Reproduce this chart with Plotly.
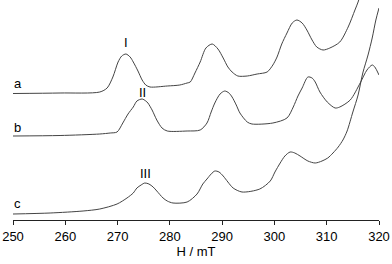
import plotly.graph_objects as go

# Field (mT) and stacked intensity (arb. units) for the three spectra
field_a = [250, 259, 266.6, 268, 269.1, 270.1, 270.8, 271.6, 272.4, 273, 273.9, 274.7, 275.4, 276.2,
           279.5, 281.9, 283.3, 283.9, 284.8, 285.8, 286.9, 288.1, 289.2, 290.2, 291.1, 291.9, 293,
           294.8, 296.7, 298.6, 299.7, 300.5, 301.4, 302.4, 303.4, 304.3, 305.3, 306.2, 307.2, 308.1,
           309.3, 310.6, 312.5, 314.1, 315.4, 316, 316.6]
int_a = [126.5, 127, 128, 132, 143, 158, 164, 166, 163, 158, 149, 140, 135, 133,
         134, 135, 137, 138, 147, 158, 172, 176, 171, 162, 153, 148, 144,
         144, 146, 148, 155, 163, 176, 187, 197, 200, 197, 190, 180, 173,
         170, 172, 178, 193, 210, 218, 228]

field_b = [250, 259, 266.6, 268.6, 269.9, 271, 272, 273, 273.7, 274.7, 275.4, 275.8, 276.6, 277.5,
           278.5, 279.5, 283.3, 285.8, 287.1, 287.9, 288.6, 289.6, 290.5, 291.3, 291.9, 292.7, 293.4,
           294.8, 295.7, 299.7, 302.4, 303.6, 304.5, 305.3, 306.4, 307.2, 307.8, 308.7, 310.1, 311.6,
           312.5, 314.5, 316.4, 317.7, 318.7, 319.2, 320]
int_b = [84, 84.5, 86, 87, 88, 97, 106, 113, 119, 121, 119, 117, 110, 100,
         92, 89, 89, 90, 97, 108, 117, 126, 129, 127, 123, 115, 107,
         98, 96, 97, 102, 113, 124, 132, 143, 142, 138, 128, 118, 112,
         113, 120, 137, 150, 155, 153, 145]

field_c = [250, 257.1, 263.4, 266.6, 269.9, 271.8, 273, 273.7, 274.5, 275.2, 276, 276.8, 277.5, 278.7,
           279.5, 280.6, 283.3, 285.2, 286.3, 287.1, 287.9, 288.6, 289.4, 290.2, 291.1, 292.1, 293.8,
           297.2, 299.2, 300.1, 301.1, 302, 303, 303.9, 304.9, 306.4, 307.8, 309.1, 310.2, 311.2,
           312.2, 313.1, 313.9, 315, 316, 316.9, 317.9, 318.7, 319.4, 320]
int_c = [6, 7, 9, 11, 16, 22, 27, 32, 35, 37, 36, 33, 29, 22,
         19, 17, 18, 26, 36, 41, 46, 49, 48, 44, 38, 32, 28,
         31, 39, 48, 57, 64, 68, 67, 64, 59, 57, 59, 62, 67,
         73, 80, 89, 108, 125, 147, 165, 182, 200, 212]

trace_labels = ["a", "b", "c"]
label_pos = [136.5, 92.5, 16.5]
peak_labels = ["I", "II", "III"]
peak_x = [271.6, 274.7, 275.4]
peak_y = [177.5, 127.5, 46.5]
tick_vals = [250, 260, 270, 280, 290, 300, 310, 320]

FONT = "Liberation Sans, Arial, sans-serif"
LINE = "#444444"

fig = go.Figure()
for fx, iy in [(field_a, int_a), (field_b, int_b), (field_c, int_c)]:
    fig.add_trace(go.Scatter(x=fx, y=iy, mode="lines",
                             line=dict(color=LINE, width=1, shape="spline", smoothing=0.8),
                             showlegend=False, hoverinfo="skip"))

for t, yv in zip(trace_labels, label_pos):
    fig.add_annotation(x=250, y=yv, text=t, showarrow=False, xanchor="left", yanchor="middle",
                       xshift=-1, font=dict(family=FONT, size=13, color="#000"))
for t, xv, yv in zip(peak_labels, peak_x, peak_y):
    fig.add_annotation(x=xv, y=yv, text=t, showarrow=False, xanchor="center", yanchor="middle",
                       font=dict(family=FONT, size=13, color="#000"))

fig.update_layout(
    width=392, height=264,
    margin=dict(l=13, r=13, t=0, b=44, autoexpand=False),
    paper_bgcolor="white", plot_bgcolor="white",
    font=dict(family=FONT, size=13, color="#000"),
    hovermode=False,
    xaxis=dict(range=[250, 320], tickvals=tick_vals, ticks="outside", ticklen=4, tickwidth=1,
               tickcolor="#222", showline=True, linecolor="#222", linewidth=1,
               showgrid=False, zeroline=False, automargin=False, fixedrange=True,
               title=dict(text="H / mT", standoff=4, font=dict(family=FONT, size=13)),
               tickfont=dict(family=FONT, size=13)),
    yaxis=dict(range=[0, 220], visible=False, fixedrange=True),
)

fig.write_html("out.html", config={"displayModeBar": False, "staticPlot": True},
               post_script="document.body.style.margin='0';document.body.style.overflow='hidden';")
